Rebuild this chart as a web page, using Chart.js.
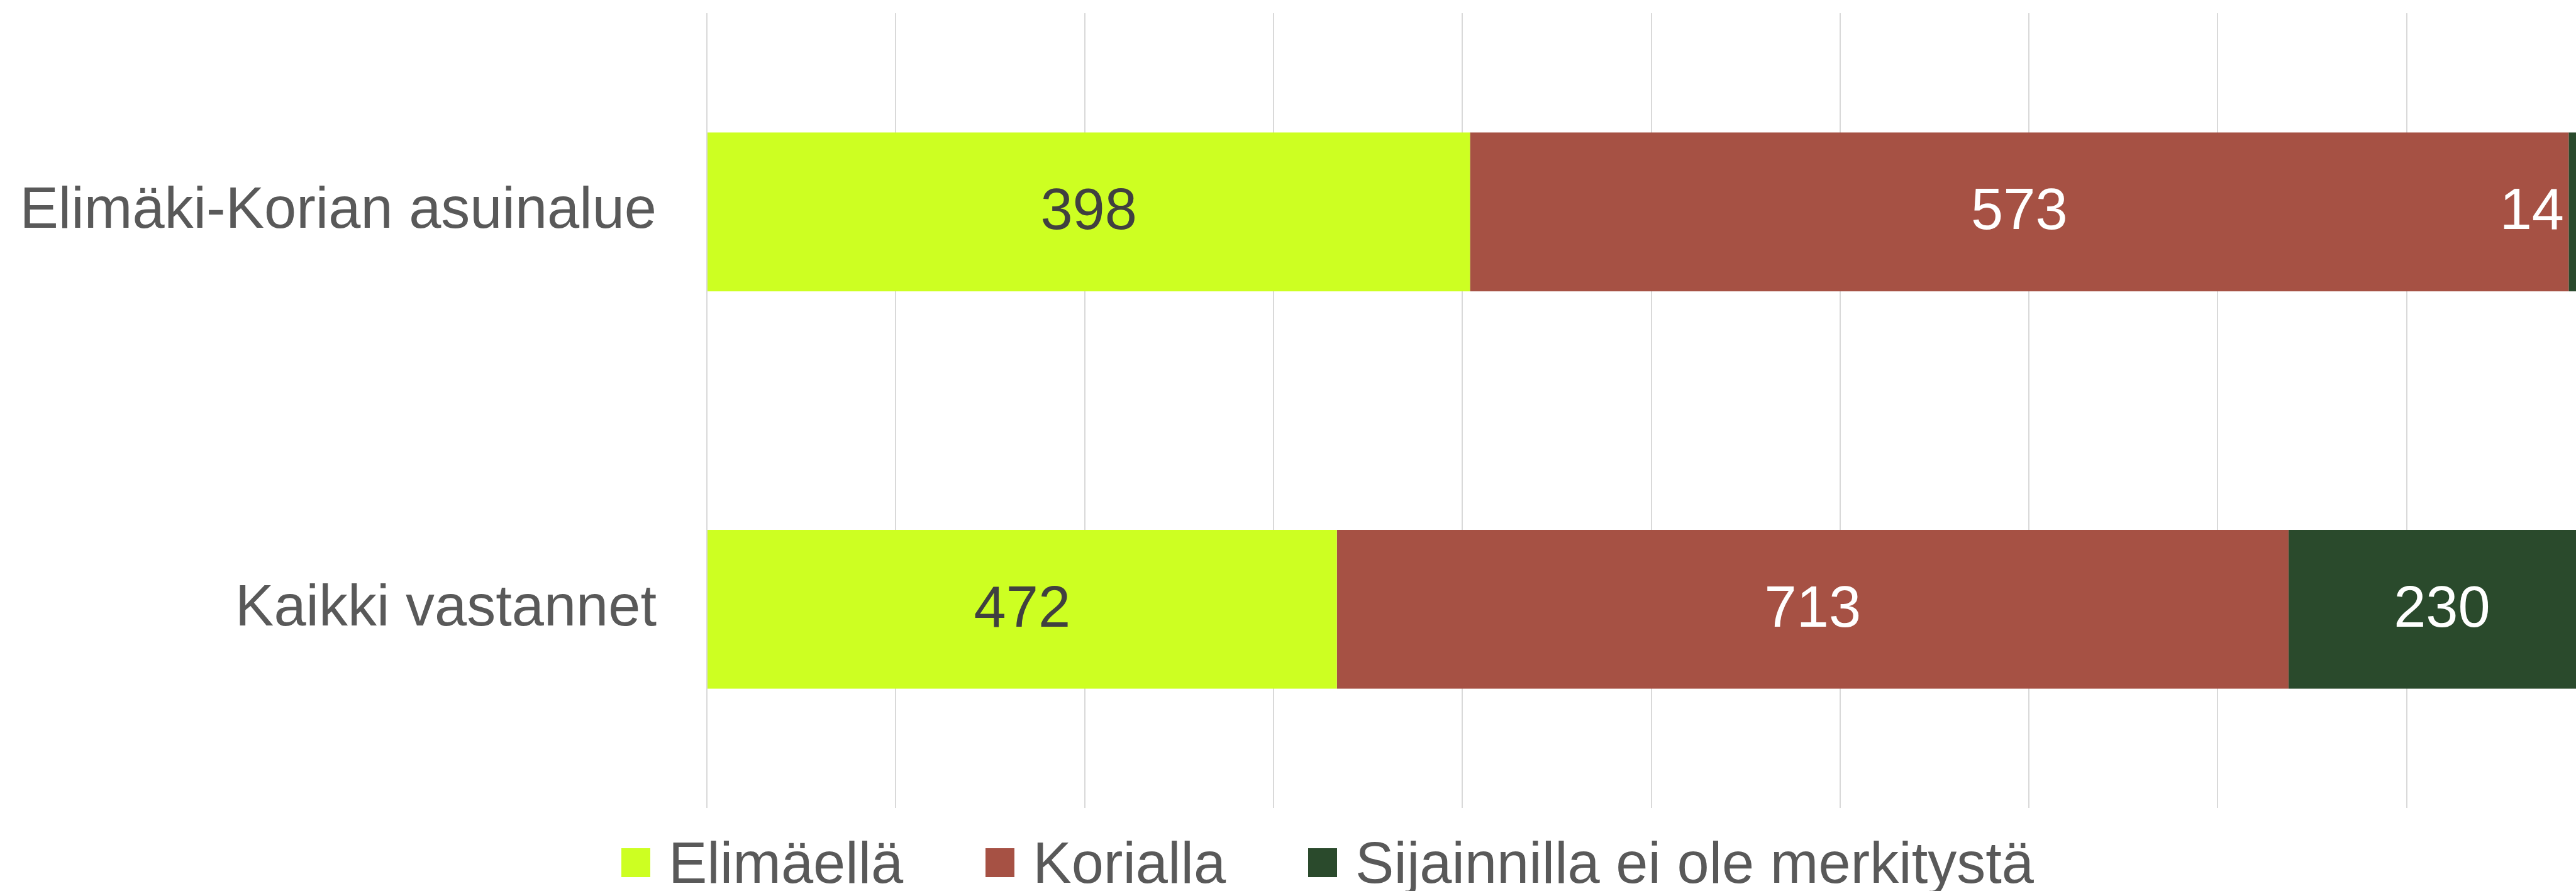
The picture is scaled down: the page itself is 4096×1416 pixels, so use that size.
<!DOCTYPE html>
<html lang="fi">
<head>
  <meta charset="UTF-8">
  <title>Sijainti</title>
  <script src="https://cdn.jsdelivr.net/npm/chart.js"></script>
  <style>
    html, body { margin: 0; padding: 0; background: #fff; overflow: hidden; width: 4096px; height: 1416px; }
    #wrap { position: relative; width: 4127px; height: 1416px; }
    #legend { position: absolute; left: 988px; top: 1322px; height: 98px; display: flex; align-items: center;
      font-family: "Liberation Sans", Arial, sans-serif; font-size: 92px; color: #595959; white-space: nowrap; }
    #legend .item { display: flex; align-items: center; margin-right: 131px; }
    #legend .sw { width: 46px; height: 46px; margin-right: 29px; }
  </style>
</head>
<body>
  <div id="wrap">
    <canvas id="chart"></canvas>
    <div id="legend"></div>
  </div>
  <script>
    const categories = ['Elimäki-Korian asuinalue', 'Kaikki vastannet'];
    const seriesNames = ['Elimäellä', 'Korialla', 'Sijainnilla ei ole merkitystä'];
    const elimaella = [398, 472];
    const korialla = [573, 713];
    const eiMerkitysta = [14, 230];
    const colors = ['#cdff22', '#a65144', '#2a4a2c'];
    const labelColors = ['#404040', '#ffffff', '#ffffff'];

    // 100 % pinottu: osuudet lasketaan lukumääristä
    const raw = [elimaella, korialla, eiMerkitysta];
    const totals = categories.map((_, i) => raw.reduce((s, arr) => s + arr[i], 0));
    const pct = raw.map(arr => arr.map((v, i) => v / totals[i] * 100));

    const FONT = '"Liberation Sans", Arial, sans-serif';
    const VIEW_W = 4096;

    const valueLabels = {
      id: 'valueLabels',
      afterDatasetsDraw(chart) {
        const ctx = chart.ctx;
        ctx.save();
        ctx.font = '92px ' + FONT;
        ctx.textAlign = 'center';
        ctx.textBaseline = 'middle';
        chart.data.datasets.forEach((ds, di) => {
          chart.getDatasetMeta(di).data.forEach((el, i) => {
            const txt = String(raw[di][i]);
            const w = ctx.measureText(txt).width;
            let cx = (el.x + el.base) / 2;
            if (cx + w / 2 > VIEW_W - 19) cx = VIEW_W - 19 - w / 2;
            ctx.fillStyle = labelColors[di];
            ctx.fillText(txt, cx, el.y + 2);
          });
        });
        ctx.restore();
      }
    };

    new Chart(document.getElementById('chart'), {
      type: 'bar',
      data: {
        labels: categories,
        datasets: seriesNames.map((name, di) => ({
          label: name,
          data: pct[di],
          backgroundColor: colors[di],
          borderWidth: 0,
          categoryPercentage: 0.8,
          barPercentage: 0.5
        }))
      },
      options: {
        indexAxis: 'y',
        responsive: true,
        maintainAspectRatio: false,
        animation: false,
        layout: { padding: { left: 0, right: 0, top: 21, bottom: 132 } },
        plugins: { legend: { display: false }, tooltip: { enabled: false } },
        scales: {
          x: {
            stacked: true, min: 0, max: 100,
            ticks: { display: false, stepSize: 10 },
            grid: { color: '#d9d9d9', lineWidth: 2, drawTicks: false, tickLength: 0 },
            border: { display: false },
            afterFit(scale) { scale.height = 0; scale.paddingLeft = 0; scale.paddingRight = 0; }
          },
          y: {
            stacked: true,
            ticks: { color: '#595959', font: { family: FONT, size: 92 }, padding: 80 },
            grid: { display: false, drawTicks: false, tickLength: 0 },
            border: { display: false },
            afterFit(scale) { scale.width = 1124; scale.paddingTop = 0; scale.paddingBottom = 0; }
          }
        }
      },
      plugins: [valueLabels]
    });

    const legend = document.getElementById('legend');
    seriesNames.forEach((name, i) => {
      const item = document.createElement('div');
      item.className = 'item';
      item.innerHTML = '<span class="sw" style="background:' + colors[i] + '"></span><span>' + name + '</span>';
      legend.appendChild(item);
    });
  </script>
</body>
</html>
